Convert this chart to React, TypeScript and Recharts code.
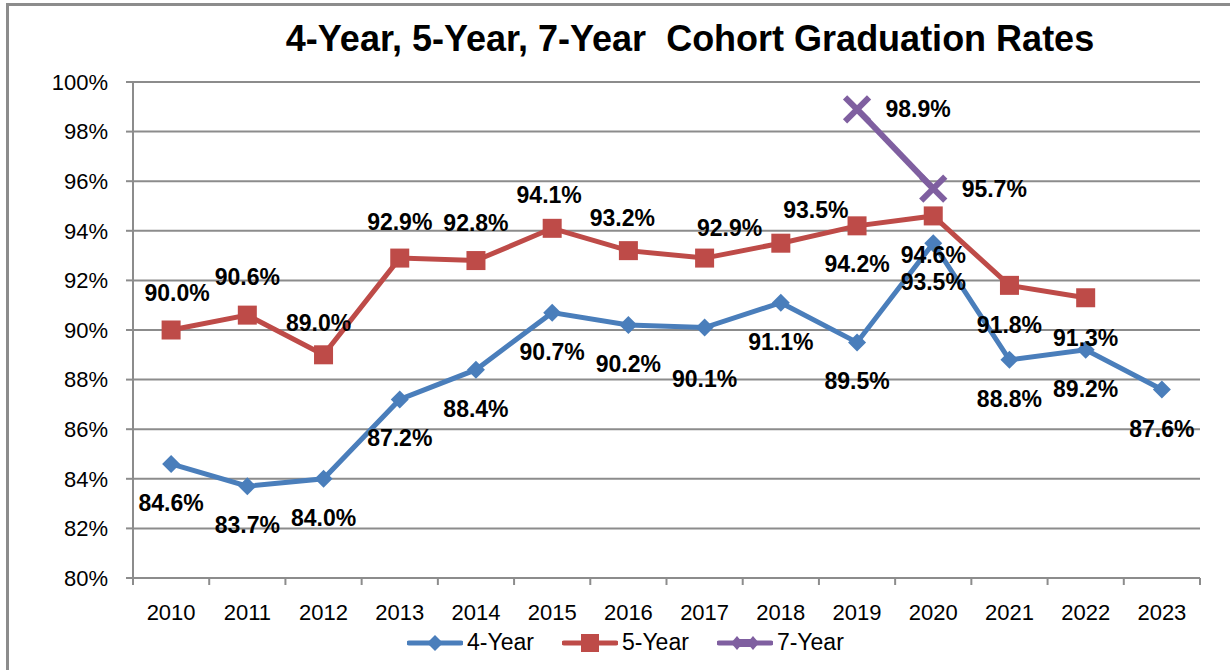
import { CartesianGrid, LabelList, Line, LineChart, XAxis, YAxis } from 'recharts'

const YEARS = ['2010', '2011', '2012', '2013', '2014', '2015', '2016', '2017', '2018', '2019', '2020', '2021', '2022', '2023']
const FOUR_YEAR  = [84.6, 83.7, 84.0, 87.2, 88.4, 90.7, 90.2, 90.1, 91.1, 89.5, 93.5, 88.8, 89.2, 87.6]
const FIVE_YEAR  = [90.0, 90.6, 89.0, 92.9, 92.8, 94.1, 93.2, 92.9, 93.5, 94.2, 94.6, 91.8, 91.3, null]
const SEVEN_YEAR = [null, null, null, null, null, null, null, null, null, 98.9, 95.7, null, null, null]
const Y_TICKS = [80, 82, 84, 86, 88, 90, 92, 94, 96, 98, 100]

// data label offsets (dx, dy) from each point, as placed in the original
const LABEL_OFF_4 = YEARS.map((_, i) => (i === 7 ? [0, 51] : [0, 39]))
const LABEL_OFF_5 = [[6, -37], [0, -38], [-5, -32], [0, -36], [0, -38], [-3, -33], [-6, -33], [25, -30], [35, -33], [0, 38], [0, 39], [0, 40], [0, 40], [0, 0]]
const LABEL_OFF_7 = YEARS.map(() => [61, 0])

const data = YEARS.map((year, i) => ({
  year,
  y4: FOUR_YEAR[i],
  y5: FIVE_YEAR[i],
  y7: SEVEN_YEAR[i],
}))

const W = 1230
const H = 670
const PLOT_LEFT = 133
const PLOT_RIGHT = 1200
const PLOT_TOP = 82
const PLOT_BOTTOM = 578
const BAND = (PLOT_RIGHT - PLOT_LEFT) / YEARS.length

const BLUE = '#4a7ebb'
const RED = '#be4b48'
const PURPLE = '#7f5fa0'
const GRID = '#8c8c8c'
const FONT = '"Liberation Sans", Arial, sans-serif'

const Diamond = ({ cx, cy, key }: any) =>
  cy == null ? <g key={key} /> : (
    <polygon key={key} points={`${cx},${cy - 9} ${cx + 9},${cy} ${cx},${cy + 9} ${cx - 9},${cy}`} fill={BLUE} />
  )

const Square = ({ cx, cy, key }: any) =>
  cy == null ? <g key={key} /> : <rect key={key} x={cx - 9.5} y={cy - 9.5} width={19} height={19} fill={RED} />

const Cross = ({ cx, cy, key }: any) =>
  cy == null ? <g key={key} /> : (
    <g key={key} stroke={PURPLE} strokeWidth={6}>
      <line x1={cx - 12} y1={cy - 12} x2={cx + 12} y2={cy + 12} />
      <line x1={cx - 12} y1={cy + 12} x2={cx + 12} y2={cy - 12} />
    </g>
  )

const makeLabel = (offs: number[][]) => (props: any) => {
  const { x, y, value, index } = props
  if (value == null || y == null) return null
  const [dx, dy] = offs[index] || [0, 0]
  return (
    <text x={x + dx} y={y + dy} textAnchor="middle" dominantBaseline="central"
      fontFamily={FONT} fontWeight="bold" fontSize={23} fill="#000">
      {value.toFixed(1)}%
    </text>
  )
}

const XTick = ({ x, payload, index }: any) => (
  <g>
    <line x1={x - BAND / 2} y1={PLOT_BOTTOM} x2={x - BAND / 2} y2={PLOT_BOTTOM + 7} stroke={GRID} strokeWidth={2} />
    {index === YEARS.length - 1 && (
      <line x1={x + BAND / 2} y1={PLOT_BOTTOM} x2={x + BAND / 2} y2={PLOT_BOTTOM + 7} stroke={GRID} strokeWidth={2} />
    )}
    <text x={x} y={612} textAnchor="middle" dominantBaseline="central" fontFamily={FONT} fontSize={22} fill="#000">
      {payload.value}
    </text>
  </g>
)

const LEGEND = [
  { name: '4-Year', color: BLUE, shape: 'diamond' },
  { name: '5-Year', color: RED, shape: 'square' },
  { name: '7-Year', color: PURPLE, shape: 'cross' },
]

function LegendIcon({ color, shape }: { color: string; shape: string }) {
  return (
    <svg width={56} height={24} style={{ display: 'block' }}>
      <line x1={2} y1={12} x2={54} y2={12} stroke={color} strokeWidth={5} strokeLinecap="round" />
      {shape === 'diamond' && <polygon points="28,4 36,12 28,20 20,12" fill={color} />}
      {shape === 'square' && <rect x={19} y={3} width={18} height={18} fill={color} />}
      {shape === 'cross' && (
        <g fill={color}>
          <polygon points="14,12 20,5 26,12 20,19" />
          <polygon points="30,12 36,5 42,12 36,19" />
          <rect x={20} y={8} width={16} height={8} />
        </g>
      )}
    </svg>
  )
}

export default function App() {
  return (
    <div style={{ position: 'absolute', left: 0, top: 0, width: W, height: H, overflow: 'hidden', background: '#fff' }}>
      <div style={{ position: 'absolute', left: 6, top: 3, width: W + 40, height: H + 40, border: `3px solid ${GRID}` }} />
      <div style={{
        position: 'absolute', left: 0, width: 1380, top: 18, lineHeight: '42px', textAlign: 'center',
        fontFamily: FONT, fontWeight: 'bold', fontSize: 36, color: '#000',
      }}>
        4-Year, 5-Year, 7-Year&nbsp;&nbsp;Cohort Graduation Rates
      </div>
      <div style={{ position: 'absolute', left: 0, top: 0 }}>
        <LineChart width={W} height={H} data={data}
          margin={{ top: PLOT_TOP, right: W - PLOT_RIGHT, bottom: H - PLOT_BOTTOM - 40, left: 0 }}>
          <CartesianGrid vertical={false} stroke={GRID} strokeWidth={2} />
          <XAxis dataKey="year" height={40} tick={<XTick />} tickLine={false} interval={0}
            padding={{ left: BAND / 2, right: BAND / 2 }} axisLine={{ stroke: GRID, strokeWidth: 2 }} />
          <YAxis width={PLOT_LEFT} domain={[80, 100]} ticks={Y_TICKS} interval={0}
            tickFormatter={(v: number) => `${v}%`} tickSize={7} tickMargin={18}
            tickLine={{ stroke: GRID, strokeWidth: 2 }} axisLine={{ stroke: GRID, strokeWidth: 2 }}
            tick={{ fontFamily: FONT, fontSize: 22, fill: '#000' }} />
          <Line dataKey="y4" stroke={BLUE} strokeWidth={5} dot={Diamond} activeDot={false} isAnimationActive={false}>
            <LabelList dataKey="y4" content={makeLabel(LABEL_OFF_4)} />
          </Line>
          <Line dataKey="y5" stroke={RED} strokeWidth={5} dot={Square} activeDot={false} isAnimationActive={false}>
            <LabelList dataKey="y5" content={makeLabel(LABEL_OFF_5)} />
          </Line>
          <Line dataKey="y7" stroke={PURPLE} strokeWidth={6} dot={Cross} activeDot={false} isAnimationActive={false}>
            <LabelList dataKey="y7" content={makeLabel(LABEL_OFF_7)} />
          </Line>
        </LineChart>
      </div>
      <div style={{ position: 'absolute', left: 407, top: 629, display: 'flex', alignItems: 'center', fontFamily: FONT, fontSize: 23 }}>
        {LEGEND.map(item => (
          <div key={item.name} style={{ display: 'flex', alignItems: 'center', marginRight: 28 }}>
            <LegendIcon color={item.color} shape={item.shape} />
            <span style={{ marginLeft: 4 }}>{item.name}</span>
          </div>
        ))}
      </div>
    </div>
  )
}
